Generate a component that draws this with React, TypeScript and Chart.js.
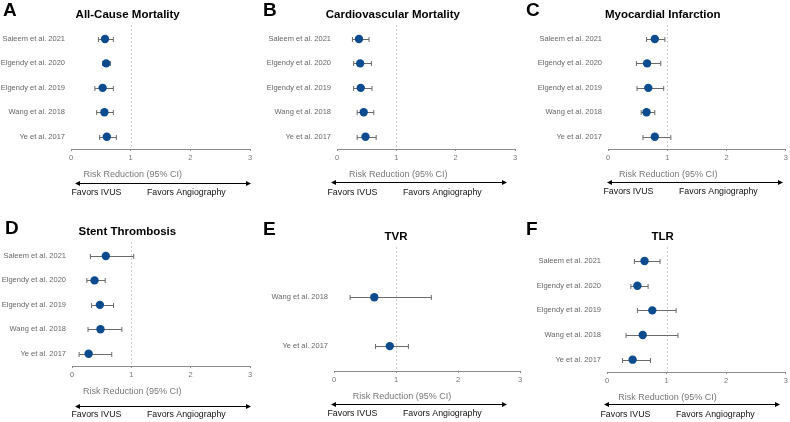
import React, { useEffect, useRef } from 'react';
import { Chart, registerables } from 'chart.js';
Chart.register(...registerables);

// ---------- data ----------
const studies5 = ['Saleem et al. 2021', 'Elgendy et al. 2020', 'Elgendy et al. 2019', 'Wang et al. 2018', 'Ye et al. 2017'];
const studiesTVR = ['Wang et al. 2018', 'Ye et al. 2017'];
const xTicks = [0, 1, 2, 3];

// A: All-Cause Mortality
const acmRR = [0.57, 0.59, 0.53, 0.56, 0.60];
const acmLo = [0.46, 0.53, 0.40, 0.43, 0.48];
const acmHi = [0.71, 0.66, 0.71, 0.71, 0.76];
// B: Cardiovascular Mortality
const cvmRR = [0.37, 0.39, 0.40, 0.45, 0.48];
const cvmLo = [0.26, 0.28, 0.28, 0.34, 0.34];
const cvmHi = [0.54, 0.58, 0.59, 0.62, 0.66];
// C: Myocardial Infarction
const miRR = [0.79, 0.66, 0.68, 0.65, 0.79];
const miLo = [0.65, 0.48, 0.49, 0.56, 0.59];
const miHi = [0.96, 0.89, 0.94, 0.79, 1.06];
// D: Stent Thrombosis
const stRR = [0.57, 0.38, 0.47, 0.48, 0.28];
const stLo = [0.31, 0.25, 0.33, 0.27, 0.12];
const stHi = [1.04, 0.56, 0.70, 0.84, 0.67];
// E: TVR
const tvrRR = [0.65, 0.90];
const tvrLo = [0.26, 0.67];
const tvrHi = [1.57, 1.20];
// F: TLR
const tlrRR = [0.63, 0.51, 0.76, 0.60, 0.43];
const tlrLo = [0.46, 0.40, 0.51, 0.32, 0.26];
const tlrHi = [0.89, 0.69, 1.16, 1.19, 0.73];

const panelLetters = ['A', 'B', 'C', 'D', 'E', 'F'];
const panelTitles = ['All-Cause Mortality', 'Cardiovascular Mortality', 'Myocardial Infarction', 'Stent Thrombosis', 'TVR', 'TLR'];
const axisTitle = 'Risk Reduction (95% CI)';
const leftNote = 'Favors IVUS';
const rightNote = 'Favors Angiography';

// ---------- layout ----------
type Layout = {
  box: { left: number; top: number; w: number; h: number };
  area: { l: number; r: number; t: number; b: number };
  yRange: [number, number];
  arrowX: number; arrowDy: number; textDy: number;
  letter: [number, number]; titleShift: number; axisTitleShift: number;
};
const layouts: Layout[] = [
  { box: { left: 0, top: 0, w: 263, h: 210 }, area: { l: 71, r: 250, t: 25, b: 149 }, yRange: [-0.57, 4.5], arrowX: 75, arrowDy: 34, textDy: 44, letter: [3, 16], titleShift: -3, axisTitleShift: 2 },
  { box: { left: 263, top: 0, w: 263, h: 210 }, area: { l: 74, r: 252, t: 25, b: 149 }, yRange: [-0.57, 4.5], arrowX: 68, arrowDy: 33, textDy: 43.5, letter: [0, 16], titleShift: -3.5, axisTitleShift: 2 },
  { box: { left: 526, top: 0, w: 264, h: 210 }, area: { l: 82, r: 262, t: 25, b: 149 }, yRange: [-0.57, 4.5], arrowX: 81, arrowDy: 33, textDy: 43, letter: [0, 16], titleShift: -4.5, axisTitleShift: 1 },
  { box: { left: 0, top: 210, w: 263, h: 212 }, area: { l: 72, r: 250, t: 32, b: 156 }, yRange: [-0.57, 4.5], arrowX: 75, arrowDy: 40, textDy: 49, letter: [5, 24], titleShift: -4, axisTitleShift: 1 },
  { box: { left: 263, top: 210, w: 263, h: 212 }, area: { l: 71, r: 257, t: 37, b: 161 }, yRange: [-1.03, 1.51], arrowX: 68, arrowDy: 33, textDy: 43, letter: [0, 25], titleShift: 0, axisTitleShift: 6 },
  { box: { left: 526, top: 210, w: 264, h: 212 }, area: { l: 81, r: 261, t: 37, b: 162 }, yRange: [-0.57, 4.5], arrowX: 78, arrowDy: 32, textDy: 42.5, letter: [0, 25], titleShift: -4, axisTitleShift: 1 },
];

const panelData = [
  { labels: studies5, rr: acmRR, lo: acmLo, hi: acmHi },
  { labels: studies5, rr: cvmRR, lo: cvmLo, hi: cvmHi },
  { labels: studies5, rr: miRR, lo: miLo, hi: miHi },
  { labels: studies5, rr: stRR, lo: stLo, hi: stHi },
  { labels: studiesTVR, rr: tvrRR, lo: tvrLo, hi: tvrHi },
  { labels: studies5, rr: tlrRR, lo: tlrLo, hi: tlrHi },
];

const SANS = '"Liberation Sans", Arial, sans-serif';
const X_AXIS_H = 20;
const POINT = '#0c4b8e';
const BAR = '#6a6a6a';
const TICK = '#777777';

function buildConfig(idx: number): any {
  const L = layouts[idx];
  const D = panelData[idx];
  const forest = {
    id: 'forest',
    beforeDatasetsDraw(chart: any) {
      const { ctx, chartArea } = chart;
      const xs = chart.scales.x;
      const ys = chart.scales.y;
      ctx.save();
      // reference line at 1
      const x1 = Math.round(xs.getPixelForValue(1)) + 0.5;
      ctx.strokeStyle = '#cfcfcf';
      ctx.lineWidth = 1;
      ctx.setLineDash([2, 2]);
      ctx.beginPath();
      ctx.moveTo(x1, chartArea.top);
      ctx.lineTo(x1, chartArea.bottom);
      ctx.stroke();
      ctx.setLineDash([]);
      // error bars
      ctx.strokeStyle = BAR;
      ctx.lineWidth = 1;
      D.rr.forEach((_, i) => {
        const y = Math.round(ys.getPixelForValue(i)) + 0.5;
        const a = xs.getPixelForValue(D.lo[i]);
        const b = xs.getPixelForValue(D.hi[i]);
        ctx.beginPath();
        ctx.moveTo(a, y); ctx.lineTo(b, y);
        ctx.moveTo(a, y - 2.5); ctx.lineTo(a, y + 2.5);
        ctx.moveTo(b, y - 2.5); ctx.lineTo(b, y + 2.5);
        ctx.stroke();
      });
      ctx.restore();
    },
    afterDraw(chart: any) {
      const { ctx, chartArea } = chart;
      const xs = chart.scales.x;
      const p1 = xs.getPixelForValue(1);
      ctx.save();
      // panel letter
      ctx.fillStyle = '#000';
      ctx.font = `bold 19px ${SANS}`;
      ctx.textAlign = 'left';
      ctx.textBaseline = 'alphabetic';
      ctx.fillText(panelLetters[idx], L.letter[0], L.letter[1]);
      // title
      ctx.font = `bold 11.5px ${SANS}`;
      ctx.textAlign = 'center';
      ctx.textBaseline = 'middle';
      ctx.fillText(panelTitles[idx], p1 + L.titleShift, chartArea.top - 10.5);
      // axis title
      const axisY = chartArea.bottom;
      ctx.font = `9px ${SANS}`;
      ctx.fillStyle = '#777777';
      ctx.fillText(axisTitle, p1 + L.axisTitleShift, axisY + 26);
      // arrow
      const ay = Math.round(axisY + L.arrowDy) + 0.5;
      const ax0 = L.arrowX;
      const ax1 = L.arrowX + 176;
      ctx.strokeStyle = '#000';
      ctx.fillStyle = '#000';
      ctx.lineWidth = 1;
      ctx.beginPath();
      ctx.moveTo(ax0 + 3, ay); ctx.lineTo(ax1 - 3, ay);
      ctx.stroke();
      ctx.beginPath();
      ctx.moveTo(ax0, ay); ctx.lineTo(ax0 + 5, ay - 2.5); ctx.lineTo(ax0 + 5, ay + 2.5); ctx.closePath();
      ctx.fill();
      ctx.beginPath();
      ctx.moveTo(ax1, ay); ctx.lineTo(ax1 - 5, ay - 2.5); ctx.lineTo(ax1 - 5, ay + 2.5); ctx.closePath();
      ctx.fill();
      // favors text
      ctx.fillStyle = '#111';
      ctx.font = `8.8px ${SANS}`;
      ctx.textAlign = 'left';
      ctx.fillText(leftNote, ax0 - 3.5, axisY + L.textDy);
      ctx.fillText(rightNote, ax0 + 72, axisY + L.textDy);
      ctx.restore();
    },
  };

  return {
    type: 'scatter',
    data: {
      datasets: [
        {
          data: D.rr.map((v, i) => ({ x: v, y: i })),
          pointRadius: 4.2,
          pointHoverRadius: 4.2,
          backgroundColor: POINT,
          borderColor: POINT,
          borderWidth: 0,
        },
      ],
    },
    options: {
      animation: false,
      responsive: false,
      maintainAspectRatio: false,
      events: [],
      layout: {
        padding: { left: 0, top: L.area.t, right: L.box.w - L.area.r, bottom: L.box.h - L.area.b - X_AXIS_H },
      },
      plugins: { legend: { display: false }, tooltip: { enabled: false }, title: { display: false } },
      scales: {
        x: {
          type: 'linear',
          min: 0,
          max: 3,
          afterBuildTicks: (s: any) => { s.ticks = xTicks.map((v) => ({ value: v })); },
          afterFit: (s: any) => { s.height = X_AXIS_H; },
          grid: { display: true, drawOnChartArea: false, drawTicks: true, tickLength: 2, color: '#8c8c8c' },
          border: { display: true, color: '#8c8c8c', width: 1 },
          ticks: { font: { family: SANS, size: 7.5 }, color: TICK, padding: 2, maxRotation: 0 },
        },
        y: {
          type: 'linear',
          reverse: true,
          min: L.yRange[0],
          max: L.yRange[1],
          afterBuildTicks: (s: any) => { s.ticks = D.labels.map((_, i) => ({ value: i })); },
          afterFit: (s: any) => { s.width = L.area.l; },
          grid: { display: false, drawTicks: false },
          border: { display: false },
          ticks: {
            autoSkip: false,
            font: { family: SANS, size: 7.5 },
            color: '#666666',
            padding: 6,
            callback: (v: any) => D.labels[Math.round(Number(v))] ?? '',
          },
        },
      },
    },
    plugins: [forest],
  };
}

function Panel({ idx }: { idx: number }) {
  const ref = useRef<HTMLCanvasElement>(null);
  const L = layouts[idx];
  useEffect(() => {
    const chart = new Chart(ref.current as HTMLCanvasElement, buildConfig(idx));
    return () => chart.destroy();
  }, [idx]);
  return (
    <canvas
      ref={ref}
      width={L.box.w}
      height={L.box.h}
      style={{ position: 'absolute', left: L.box.left, top: L.box.top, width: L.box.w, height: L.box.h }}
    />
  );
}

export default function App() {
  return (
    <div style={{ position: 'absolute', left: 0, top: 0, width: 790, height: 422, background: '#fff', overflow: 'hidden' }}>
      {layouts.map((_, i) => (
        <Panel key={i} idx={i} />
      ))}
    </div>
  );
}
